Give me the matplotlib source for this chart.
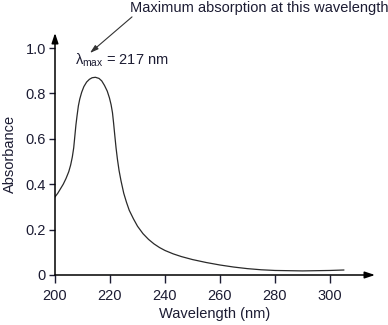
import numpy as np
import matplotlib
matplotlib.use("Agg")
from matplotlib import pyplot as plt

plt.rcParams["font.family"] = ["Liberation Sans", "DejaVu Sans"]
plt.rcParams["mathtext.fontset"] = "custom"
plt.rcParams["mathtext.rm"] = "Liberation Sans"
plt.rcParams["mathtext.default"] = "regular"

# Spectre
comprimento_onda = [200, 201, 202, 203, 204, 205, 205.7, 206.3, 206.8, 207.2, 207.6,
                    208, 208.5, 209, 209.7, 210.5, 211.5, 212.5, 213.5, 214.7, 216,
                    217, 218, 219, 219.8, 220.4, 220.9, 221.3, 221.7, 222.2, 222.7,
                    223.3, 224, 225, 226, 227, 228.5, 230, 232, 234, 236, 238, 240,
                    243, 246, 250, 255, 260, 265, 270, 275, 280, 285, 290, 295,
                    300, 305]
absorbancia = [0.344, 0.36, 0.38, 0.40, 0.425, 0.455, 0.485, 0.52, 0.56, 0.61, 0.66,
               0.70, 0.745, 0.775, 0.805, 0.83, 0.85, 0.862, 0.869, 0.871, 0.866,
               0.855, 0.835, 0.81, 0.78, 0.75, 0.715, 0.67, 0.62, 0.56, 0.51,
               0.46, 0.415, 0.36, 0.32, 0.285, 0.248, 0.215, 0.182, 0.157, 0.137,
               0.121, 0.108, 0.093, 0.081, 0.068, 0.055, 0.044, 0.035, 0.028, 0.023,
               0.02, 0.019, 0.018, 0.019, 0.02, 0.022]

xticks = [200, 220, 240, 260, 280, 300]
yticks = [0, 0.2, 0.4, 0.6, 0.8, 1.0]
ytick_labels = ["0", "0.2", "0.4", "0.6", "0.8", "1.0"]

cor_texto = "#1c1c33"
cor_linha = "#2a2a2a"

fig = plt.figure(figsize=(3.88, 3.25), dpi=100)
ax = fig.add_axes([55 / 388, 50 / 325, 320 / 388, 242 / 325])
ax.plot(comprimento_onda, absorbancia, color=cor_linha, lw=0.9)

ax.set_xlim(200, 200 + 320 / 2.75)
ax.set_ylim(0, 242 / 227)

for lado in ["top", "right", "left", "bottom"]:
    ax.spines[lado].set_visible(False)

# Eixos com setas
ax.annotate("", xy=(1, 0), xytext=(0, 0), xycoords="axes fraction",
            arrowprops=dict(arrowstyle="-|>,head_length=0.6,head_width=0.2",
                            lw=1.1, color="black", shrinkA=0, shrinkB=0))
ax.annotate("", xy=(0, 1), xytext=(0, 0), xycoords="axes fraction",
            arrowprops=dict(arrowstyle="-|>,head_length=0.6,head_width=0.2",
                            lw=1.1, color="black", shrinkA=0, shrinkB=0))

ax.set_xticks(xticks)
ax.set_yticks(yticks)
ax.set_yticklabels(ytick_labels)
ax.tick_params(axis="x", direction="out", length=6, width=1, pad=4,
               labelsize=10.5, colors=cor_texto)
ax.tick_params(axis="y", direction="out", length=4.5, width=1, pad=2,
               labelsize=10.5, colors=cor_texto)

ax.set_xlabel("Wavelength (nm)", fontsize=10.5, color=cor_texto, labelpad=3)
ax.set_ylabel("Absorbance", fontsize=10.5, color=cor_texto, labelpad=6)

ax.text(207.3, 0.945, "λ$_{max}$ = 217 nm", fontsize=10.5, color=cor_texto,
        va="center", ha="left")
ax.annotate("", xy=(212.7, 0.978), xytext=(228, 1.137),
            arrowprops=dict(arrowstyle="-|>,head_length=0.5,head_width=0.15",
                            lw=0.8, color="#333333", shrinkA=0, shrinkB=0),
            annotation_clip=False)
ax.text(227.3, 1.176, "Maximum absorption at this wavelength", fontsize=10.5,
        color=cor_texto, va="center", ha="left")

plt.savefig("out.png", dpi=100)
plt.close()
